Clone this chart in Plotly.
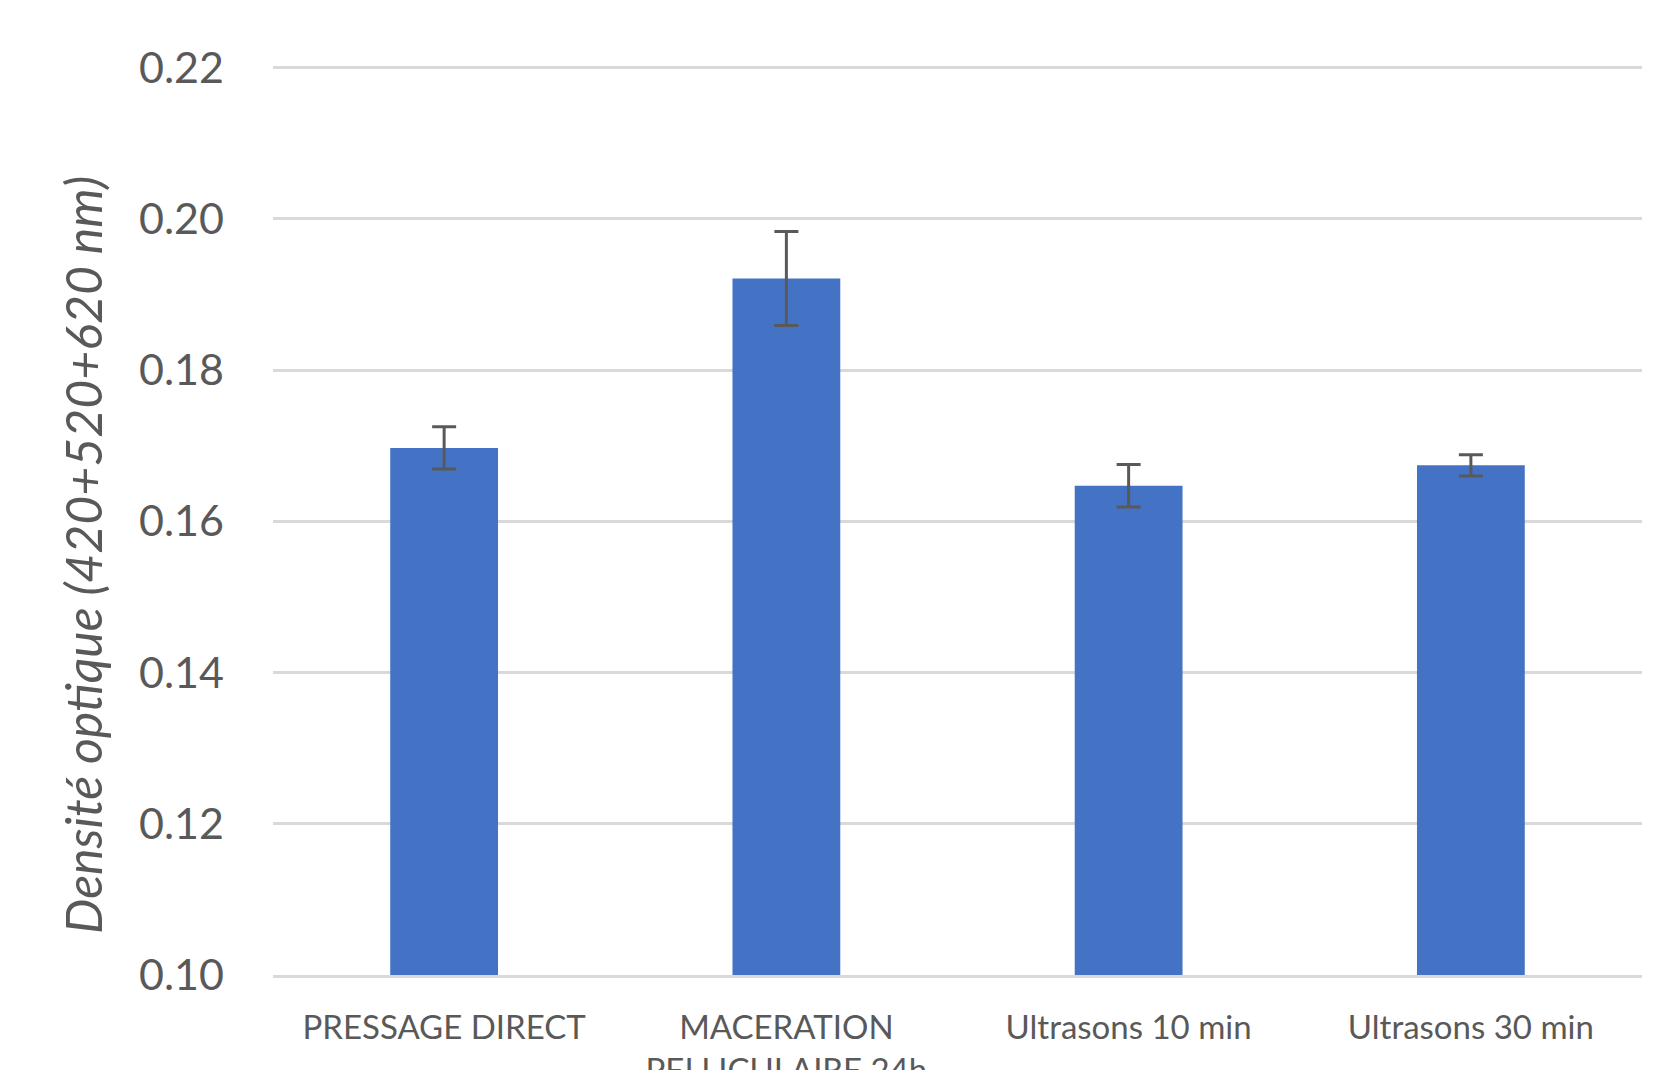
import plotly.graph_objects as go

categories = ["PRESSAGE DIRECT", "MACERATION<br>PELLICULAIRE 24h", "Ultrasons 10 min", "Ultrasons 30 min"]
values = [0.1697, 0.1921, 0.1647, 0.1674]
errors = [0.0028, 0.0062, 0.0028, 0.0014]
y_ticks = [0.10, 0.12, 0.14, 0.16, 0.18, 0.20, 0.22]
y_title = "Densité optique (420+520+620 nm)"

FONT = "Lato, Carlito, Calibri, sans-serif"
GREY = "#595959"

fig = go.Figure(
    go.Bar(
        x=categories,
        y=values,
        width=0.315,
        marker=dict(color="#4472C4", line=dict(width=0)),
        error_y=dict(type="data", array=errors, visible=True, color=GREY, thickness=3, width=12),
    )
)

fig.update_layout(
    width=1664,
    height=1062,
    margin=dict(l=265, r=30, t=58, b=95),
    paper_bgcolor="white",
    plot_bgcolor="white",
    showlegend=False,
    font=dict(family=FONT, color=GREY),
)

fig.add_annotation(
    text="<i>" + y_title + "</i>",
    xref="paper", yref="paper",
    x=0, y=0.462,
    xanchor="center", yanchor="middle",
    xshift=-190,
    textangle=-90,
    showarrow=False,
    font=dict(family=FONT, size=50, color=GREY),
)

fig.update_yaxes(
    range=[0.10, 0.2202],
    tickvals=y_ticks,
    tickformat=".2f",
    showgrid=True,
    gridcolor="#d9d9d9",
    gridwidth=3,
    zeroline=False,
    showline=False,
    automargin=False,
    tickfont=dict(family=FONT, size=43, color=GREY),
    ticklabelstandoff=48,
)

fig.update_xaxes(
    showgrid=False,
    showline=True,
    linecolor="#d9d9d9",
    linewidth=3,
    automargin=False,
    tickfont=dict(family=FONT, size=33, color=GREY),
    ticklabelstandoff=21,
)

fig.write_html("out.html")
